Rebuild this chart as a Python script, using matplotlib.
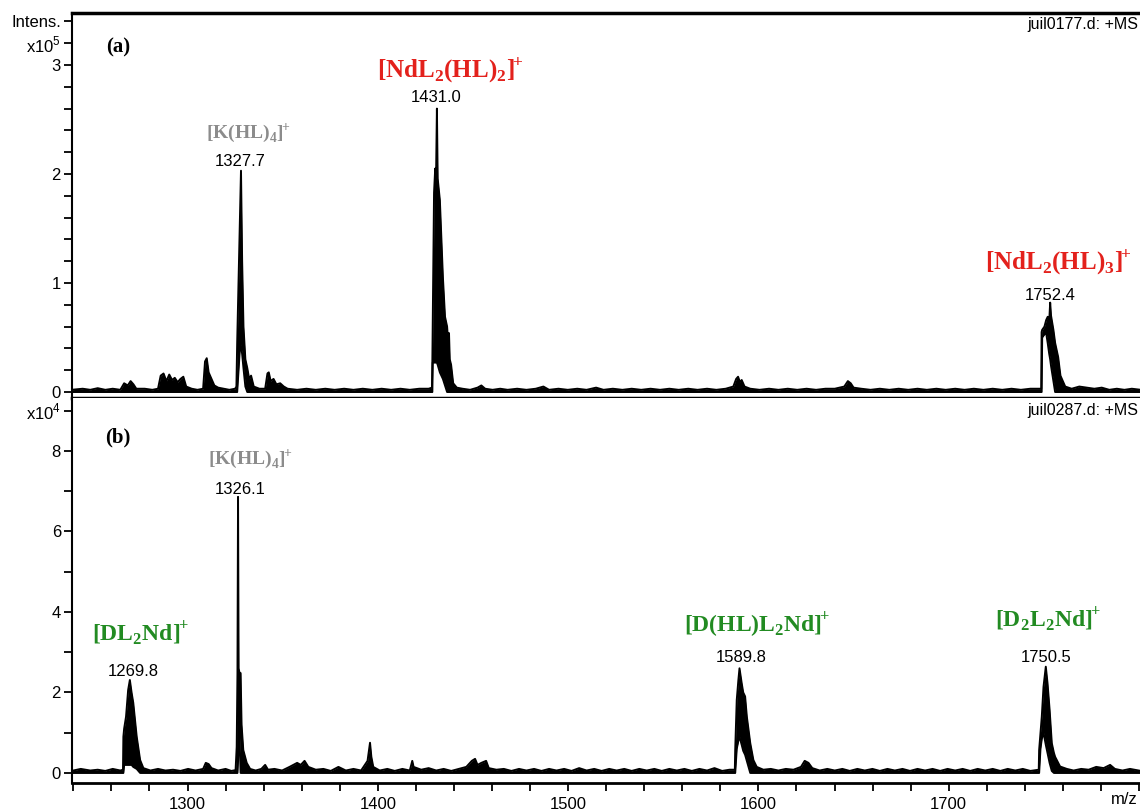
import numpy as np
import matplotlib
matplotlib.use('Agg')
import matplotlib.pyplot as plt
from matplotlib.ticker import MultipleLocator, FixedLocator

plt.rcParams['font.family'] = ['Liberation Sans', 'DejaVu Sans']
plt.rcParams['mathtext.fontset'] = 'custom'
plt.rcParams['mathtext.rm'] = 'Liberation Serif:bold'
plt.rcParams['mathtext.bf'] = 'Liberation Serif:bold'
plt.rcParams['mathtext.sf'] = 'Liberation Sans'

# ---- panel (a): juil0177.d, intensity in units of 1e5 ----
mz_a = [1239.0, 1244.9, 1248.9, 1252.8, 1256.8, 1260.7, 1264.7, 1266.7, 1268.6, 1270.1,
        1271.6, 1273.1, 1277.5, 1281.5, 1284.5, 1285.9, 1287.4, 1288.9, 1290.4, 1291.9,
        1293.3, 1294.8, 1296.3, 1297.8, 1299.3, 1302.2, 1305.2, 1308.2, 1309.2, 1310.1,
        1311.1, 1312.6, 1314.1, 1316.1, 1319.0, 1322.0, 1325.0, 1325.7, 1326.1, 1327.7,
        1328.1, 1328.7, 1329.4, 1330.4, 1331.4, 1332.4, 1333.4, 1334.8, 1337.8, 1340.8,
        1342.0, 1342.7, 1343.7, 1345.2, 1346.7, 1348.7, 1350.6, 1352.6, 1357.6, 1362.5,
        1367.4, 1372.4, 1377.3, 1382.3, 1387.2, 1392.1, 1397.1, 1402.0, 1407.0, 1411.9,
        1416.8, 1421.8, 1426.7, 1428.45, 1428.65, 1428.85, 1429.55, 1430.15, 1430.55, 1431.05,
        1431.45, 1432.6, 1434.2, 1435.3, 1436.4, 1437.0, 1437.4, 1437.8, 1438.5, 1439.6,
        1441.5, 1444.5, 1448.5, 1452.4, 1454.4, 1456.4, 1460.3, 1464.3, 1468.2, 1473.2,
        1478.1, 1483.0, 1487.0, 1490.0, 1494.9, 1499.8, 1504.8, 1509.7, 1514.7, 1518.6,
        1523.5, 1528.5, 1533.4, 1538.4, 1543.3, 1548.3, 1553.2, 1558.1, 1563.1, 1568.0,
        1573.0, 1577.9, 1582.8, 1586.8, 1588.3, 1589.3, 1590.3, 1591.2, 1592.7, 1595.7,
        1600.6, 1605.6, 1610.5, 1615.4, 1620.4, 1625.3, 1630.3, 1635.2, 1640.1, 1645.1,
        1647.0, 1648.5, 1650.0, 1654.0, 1658.9, 1663.8, 1668.8, 1673.7, 1678.7, 1683.6,
        1688.5, 1693.5, 1698.4, 1703.4, 1708.3, 1713.2, 1718.2, 1723.1, 1728.1, 1733.0,
        1737.9, 1742.9, 1748.6, 1748.8, 1749.1, 1750.3, 1751.2, 1752.0, 1752.8, 1753.3,
        1753.75, 1755.0, 1755.9, 1757.5, 1758.7, 1761.2, 1764.6, 1768.6, 1772.5, 1776.5,
        1780.4, 1784.4, 1788.3, 1792.3, 1796.2, 1801.0]
hi_a = [0.02, 0.03, 0.02, 0.035, 0.02, 0.03, 0.02, 0.08, 0.06, 0.10,
        0.07, 0.03, 0.03, 0.02, 0.03, 0.15, 0.17, 0.10, 0.16, 0.11,
        0.13, 0.09, 0.12, 0.14, 0.05, 0.03, 0.02, 0.03, 0.28, 0.31,
        0.18, 0.12, 0.06, 0.04, 0.03, 0.02, 0.03, 0.05, 0.45, 1.70,
        2.03, 1.20, 0.60, 0.30, 0.22, 0.12, 0.15, 0.05, 0.03, 0.03,
        0.17, 0.18, 0.10, 0.12, 0.07, 0.08, 0.05, 0.03, 0.02, 0.03,
        0.02, 0.03, 0.02, 0.03, 0.02, 0.03, 0.02, 0.03, 0.02, 0.03,
        0.02, 0.03, 0.03, 0.04, 0.27, 0.60, 1.83, 2.05, 1.90, 2.60,
        1.96, 1.76, 1.05, 0.69, 0.60, 0.45, 0.54, 0.30, 0.25, 0.08,
        0.04, 0.03, 0.02, 0.04, 0.06, 0.03, 0.02, 0.03, 0.02, 0.03,
        0.02, 0.03, 0.05, 0.02, 0.03, 0.02, 0.03, 0.02, 0.04, 0.02,
        0.03, 0.02, 0.03, 0.02, 0.03, 0.02, 0.03, 0.02, 0.03, 0.02,
        0.03, 0.02, 0.03, 0.05, 0.12, 0.14, 0.09, 0.11, 0.05, 0.03,
        0.02, 0.03, 0.02, 0.03, 0.02, 0.03, 0.02, 0.03, 0.03, 0.05,
        0.10, 0.08, 0.04, 0.03, 0.02, 0.03, 0.02, 0.03, 0.02, 0.03,
        0.02, 0.03, 0.02, 0.03, 0.02, 0.03, 0.02, 0.03, 0.02, 0.03,
        0.02, 0.03, 0.03, 0.55, 0.57, 0.60, 0.66, 0.69, 0.65, 0.82,
        0.70, 0.57, 0.45, 0.32, 0.15, 0.05, 0.03, 0.05, 0.04, 0.03,
        0.04, 0.02, 0.03, 0.02, 0.03, 0.02]
lo_a = [0] * 39 + [0.45,
        0.42, 0.35, 0.22, 0.05, 0, 0, 0, 0, 0, 0] + [0] * 25 + \
       [0.27, 0.27, 0.27, 0.27, 0.27,
        0.25, 0.18, 0.12, 0.06, 0, 0, 0, 0, 0, 0] + [0] * 74 + \
       [0.50, 0.53, 0.54, 0.45, 0.35, 0.30,
        0.24, 0.10, 0, 0, 0, 0, 0, 0, 0, 0,
        0, 0, 0, 0, 0, 0]

# ---- panel (b): juil0287.d, intensity in units of 1e4 ----
mz_b = [1239.0, 1243.9, 1248.9, 1252.8, 1256.8, 1260.7, 1264.7, 1266.1, 1266.3, 1266.7,
        1267.7, 1268.8, 1269.7, 1270.6, 1271.5, 1273.3, 1275.1, 1276.8, 1280.5, 1284.5,
        1288.4, 1292.4, 1296.3, 1300.3, 1304.2, 1308.2, 1309.6, 1311.1, 1312.6, 1316.1,
        1320.0, 1323.0, 1325.26, 1325.85, 1326.25, 1326.55, 1326.85, 1327.25, 1327.9, 1328.4,
        1329.3, 1331.1, 1332.9, 1335.8, 1338.8, 1340.8, 1342.3, 1345.7, 1349.7, 1353.6,
        1355.6, 1357.6, 1359.5, 1361.5, 1363.5, 1367.4, 1371.4, 1375.3, 1379.3, 1383.2,
        1387.2, 1391.2, 1394.6, 1395.9, 1396.6, 1397.6, 1401.0, 1405.0, 1408.9, 1412.9,
        1416.8, 1418.1, 1418.8, 1422.8, 1426.7, 1430.7, 1434.6, 1438.6, 1442.5, 1446.5,
        1449.4, 1451.1, 1452.4, 1454.4, 1456.9, 1458.3, 1462.3, 1466.2, 1470.2, 1474.2,
        1478.1, 1482.1, 1486.0, 1490.0, 1493.9, 1497.9, 1501.8, 1505.8, 1509.7, 1513.7,
        1517.6, 1521.6, 1525.5, 1529.5, 1533.4, 1537.4, 1541.3, 1545.3, 1549.2, 1553.2,
        1557.1, 1561.1, 1565.0, 1569.0, 1573.0, 1576.9, 1580.9, 1584.8, 1587.6, 1587.8,
        1588.6, 1589.45, 1590.05, 1591.2, 1592.0, 1593.0, 1593.9, 1595.7, 1597.35, 1599.1,
        1602.6, 1606.5, 1610.5, 1614.4, 1618.4, 1622.35, 1624.3, 1626.3, 1628.3, 1632.2,
        1636.2, 1640.1, 1644.1, 1648.0, 1652.0, 1655.9, 1659.9, 1663.8, 1667.8, 1671.7,
        1675.7, 1679.65, 1683.6, 1687.6, 1691.5, 1695.5, 1699.4, 1703.4, 1707.3, 1711.3,
        1715.2, 1719.2, 1723.1, 1727.1, 1731.0, 1735.0, 1738.9, 1742.9, 1747.3, 1747.5,
        1748.2, 1748.9, 1749.8, 1751.0, 1751.9, 1753.0, 1754.15, 1755.25, 1755.9, 1758.5,
        1762.05, 1765.6, 1769.6, 1773.5, 1777.5, 1781.4, 1784.8, 1787.3, 1791.3, 1795.25,
        1801.0]
hi_b = [0.05, 0.10, 0.06, 0.08, 0.05, 0.10, 0.06, 0.08, 0.90, 1.10,
        1.40, 2.06, 2.31, 2.00, 1.74, 0.90, 0.32, 0.12, 0.06, 0.10,
        0.06, 0.08, 0.05, 0.10, 0.06, 0.10, 0.25, 0.22, 0.12, 0.06,
        0.10, 0.05, 0.07, 0.65, 2.48, 6.86, 2.60, 2.50, 2.48, 1.20,
        0.57, 0.25, 0.10, 0.06, 0.10, 0.20, 0.08, 0.10, 0.06, 0.15,
        0.20, 0.25, 0.20, 0.30, 0.15, 0.08, 0.10, 0.05, 0.15, 0.06,
        0.10, 0.06, 0.30, 0.75, 0.40, 0.15, 0.06, 0.10, 0.05, 0.10,
        0.06, 0.30, 0.15, 0.08, 0.12, 0.06, 0.10, 0.05, 0.10, 0.15,
        0.30, 0.35, 0.20, 0.25, 0.30, 0.12, 0.08, 0.10, 0.05, 0.10,
        0.06, 0.10, 0.05, 0.10, 0.06, 0.10, 0.05, 0.12, 0.06, 0.10,
        0.05, 0.10, 0.06, 0.10, 0.05, 0.10, 0.06, 0.10, 0.05, 0.10,
        0.06, 0.10, 0.05, 0.10, 0.06, 0.12, 0.05, 0.08, 0.08, 0.57,
        1.81, 2.30, 2.60, 2.23, 2.00, 1.90, 1.40, 0.74, 0.32, 0.15,
        0.08, 0.10, 0.06, 0.10, 0.08, 0.15, 0.30, 0.25, 0.12, 0.06,
        0.10, 0.06, 0.10, 0.05, 0.10, 0.06, 0.10, 0.05, 0.10, 0.06,
        0.10, 0.05, 0.10, 0.06, 0.10, 0.05, 0.10, 0.06, 0.10, 0.05,
        0.10, 0.06, 0.10, 0.05, 0.10, 0.06, 0.10, 0.05, 0.08, 0.57,
        1.00, 1.40, 2.14, 2.64, 2.23, 1.57, 0.74, 0.50, 0.40, 0.16,
        0.10, 0.06, 0.10, 0.08, 0.15, 0.12, 0.20, 0.10, 0.06, 0.10,
        0.05]
lo_b = [0] * 9 + [0.20,
        0.20, 0.20, 0.20, 0.20, 0.15, 0.10, 0, 0, 0, 0] + [0] * 15 + \
       [0.30, 1.27, 1.00, 0, 0] + [0] * 80 + \
       [0.60, 0.80, 0.90, 0.70, 0.55, 0.45, 0.30, 0, 0, 0] + [0] * 40 + \
       [0.60, 0.85, 1.00, 0.70, 0.50, 0.25, 0.05, 0, 0, 0] + [0] * 11

fig = plt.figure(figsize=(11.4, 8.1), dpi=100)
W, H = 1140.0, 810.0
ax1 = fig.add_axes([72 / W, 1 - 398 / H, 1 - 72 / W, (398 - 13) / H])
ax2 = fig.add_axes([72 / W, 1 - 783 / H, 1 - 72 / W, (783 - 398) / H])

for ax, mz, hi, lo in [(ax1, mz_a, hi_a, lo_a), (ax2, mz_b, hi_b, lo_b)]:
    ax.fill_between(mz, lo, hi, color='black', lw=0)
    ax.plot(mz, hi, color='black', lw=1.4)
    ax.plot(mz, lo, color='black', lw=1.4)
    ax.set_xlim(1239.3, 1800.5)
    ax.spines['right'].set_visible(False)
    ax.spines['left'].set_linewidth(1.5)
    ax.tick_params(axis='y', direction='out', length=6, width=1.3, labelsize=12, pad=2)

# top panel axes
ax1.set_ylim(-0.055, 3.477)
ax1.spines['top'].set_linewidth(2.5)
ax1.spines['bottom'].set_linewidth(2.5)
ax1.set_xticks([])
yt = np.round(np.arange(0, 3.5, 0.2), 1)
ax1.set_yticks(yt)
ax1.set_yticklabels(['0', '', '', '', '', '1', '', '', '', '', '2', '', '', '', '', '3',
                     r'x10$^{\mathsf{5}}$', 'Intens.'])

# bottom panel axes
ax2.set_ylim(-0.25, 9.317)
ax2.spines['top'].set_visible(False)
ax2.spines['bottom'].set_linewidth(2)
ax2.set_yticks(range(10))
ax2.set_yticklabels(['0', '', '2', '', '4', '', '6', '', '8', r'x10$^{\mathsf{4}}$'])
ax2.xaxis.set_major_locator(FixedLocator([1300, 1400, 1500, 1600, 1700]))
ax2.xaxis.set_minor_locator(MultipleLocator(20))
ax2.tick_params(axis='x', which='both', direction='out', length=6, width=1.3,
                labelsize=12, pad=4)


def fx(x, y):
    return x / W, 1 - y / H


red = '#e3211c'
grey = '#8c8c8c'
green = '#228b22'
serif = 'Liberation Serif'

fig.text(*fx(118, 47), '(a)', family=serif, weight='bold', size=15, ha='center', va='center')
fig.text(*fx(118, 437), '(b)', family=serif, weight='bold', size=15, ha='center', va='center')
fig.text(*fx(1138, 24), 'juil0177.d: +MS', size=11.5, ha='right', va='center')
fig.text(*fx(1138, 410), 'juil0287.d: +MS', size=11.5, ha='right', va='center')
fig.text(*fx(1138, 800), 'm/z', size=12, ha='right', va='center')


def ion(x, y, label, size, color):
    fig.text(*fx(x, y), label, family=serif, weight='bold', size=size,
             color=color, ha='center', va='center')


plus = r'$^{\!\!+}$'

# panel (a) labels
ion(450, 70, '[NdL$_2$(HL)$_2$]' + plus, 18, red)
fig.text(*fx(436, 98), '1431.0', size=12, ha='center', va='center')
ion(248, 133, '[K(HL)$_4$]' + plus, 14, grey)
fig.text(*fx(240, 162), '1327.7', size=12, ha='center', va='center')
ion(1058, 262, '[NdL$_2$(HL)$_3$]' + plus, 18, red)
fig.text(*fx(1050, 296), '1752.4', size=12, ha='center', va='center')

# panel (b) labels
ion(250, 459, '[K(HL)$_4$]' + plus, 14, grey)
fig.text(*fx(240, 489), '1326.1', size=12, ha='center', va='center')
ion(140, 634, '[DL$_2$Nd]' + plus, 17, green)
fig.text(*fx(133, 671), '1269.8', size=12, ha='center', va='center')
ion(757, 625, '[D(HL)L$_2$Nd]' + plus, 17, green)
fig.text(*fx(741, 658), '1589.8', size=12, ha='center', va='center')
ion(1048, 620, '[D$_2$L$_2$Nd]' + plus, 17, green)
fig.text(*fx(1046, 657), '1750.5', size=12, ha='center', va='center')

fig.savefig('out.png', dpi=100)
